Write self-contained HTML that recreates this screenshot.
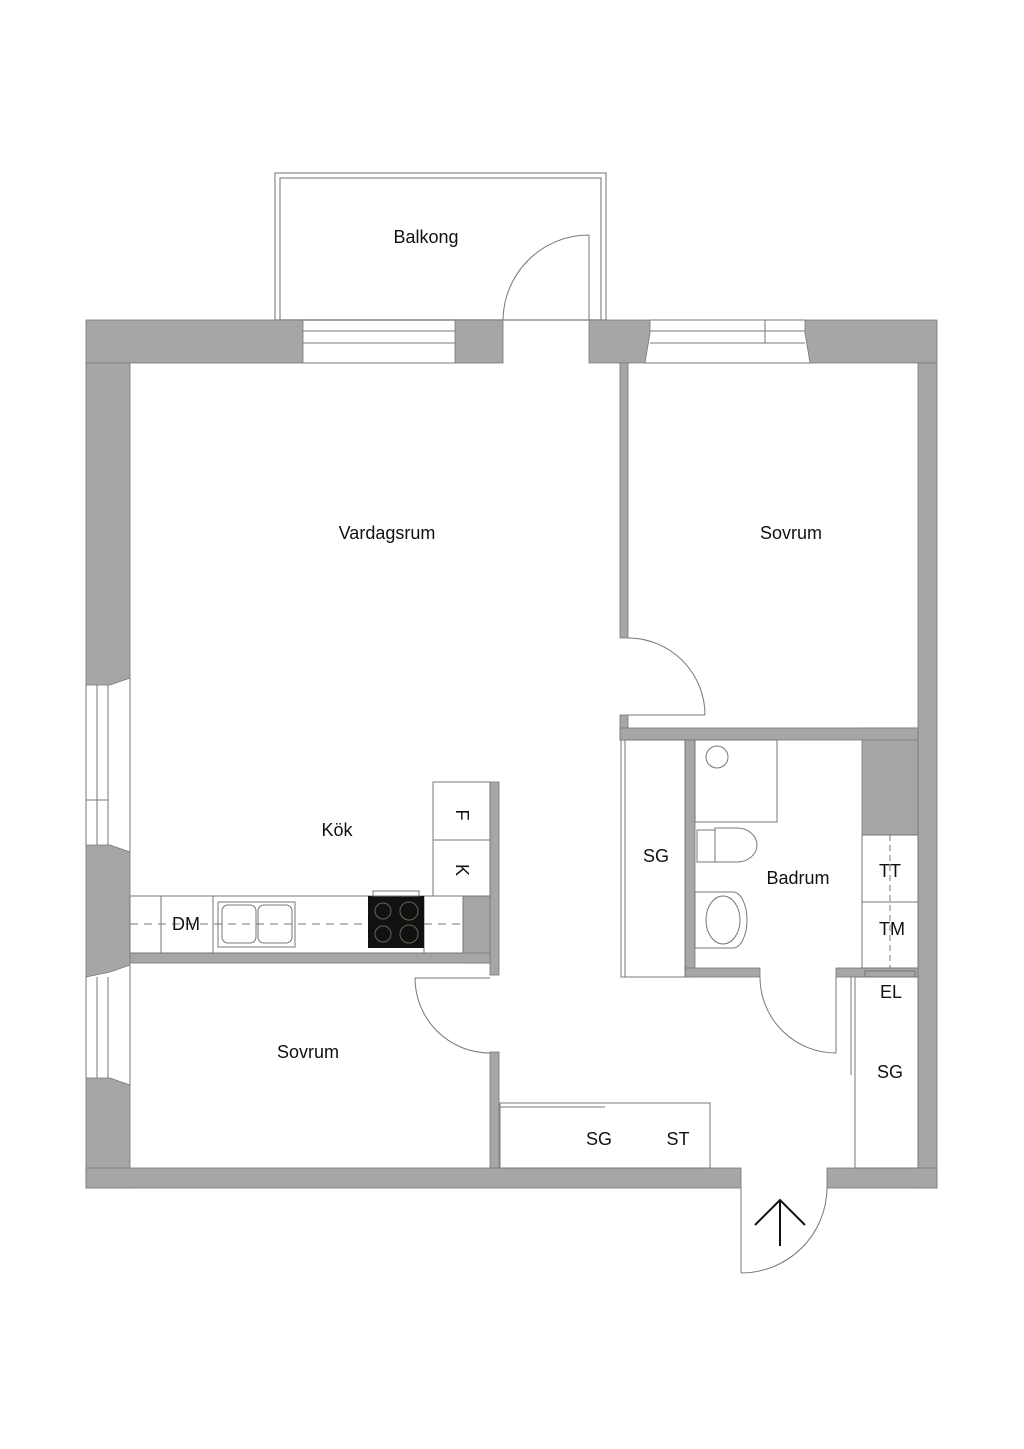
<!DOCTYPE html>
<html><head><meta charset="utf-8"><style>
html,body{margin:0;padding:0;background:#fff}
svg{display:block}
text{font-family:"Liberation Sans",sans-serif;font-size:18px;fill:#111}
</style></head><body>
<svg width="1024" height="1449" viewBox="0 0 1024 1449" xmlns="http://www.w3.org/2000/svg">
<rect width="1024" height="1449" fill="#fff"/>
<!-- balcony -->
<rect x="275" y="173" width="331" height="147" fill="none" stroke="#888" stroke-width="1.2"/>
<rect x="280" y="178" width="321" height="142" fill="none" stroke="#888" stroke-width="1.2"/>
<g fill="#a6a6a6" stroke="#777" stroke-width="0.8">
<!-- top wall -->
<rect x="86" y="320" width="217" height="43"/>
<rect x="455" y="320" width="48" height="43"/>
<polygon points="589,320 650,320 650,333 645,363 589,363"/>
<polygon points="805,320 937,320 937,363 810,363 805,333"/>
<!-- left wall -->
<polygon points="86,363 130,363 130,678 110,685 86,685"/>
<polygon points="86,845 110,845 130,852 130,965 110,972 86,977"/>
<polygon points="86,1078 110,1078 130,1085 130,1188 86,1188"/>
<!-- right wall -->
<rect x="918" y="363" width="19" height="825"/>
<rect x="862" y="728" width="56" height="107"/>
<!-- bottom wall -->
<rect x="86" y="1168" width="655" height="20"/>
<rect x="827" y="1168" width="110" height="20"/>
<!-- partition vardagsrum/sovrum -->
<rect x="620" y="363" width="8" height="275"/>
<rect x="620" y="715" width="8" height="25"/>
<rect x="620" y="728" width="298" height="12"/>
<!-- bathroom walls -->
<rect x="685" y="740" width="10" height="237"/>
<rect x="685" y="968" width="75" height="9"/>
<rect x="836" y="968" width="82" height="9"/>
<!-- kitchen walls -->
<rect x="490" y="782" width="9" height="193"/>
<rect x="463" y="896" width="27" height="67"/>
<rect x="130" y="953" width="360" height="10"/>
<rect x="490" y="1052" width="9" height="116"/>
</g>
<g fill="none" stroke="#777" stroke-width="1">
<!-- top windows -->
<line x1="303" y1="331" x2="455" y2="331"/><line x1="303" y1="343" x2="455" y2="343"/>
<line x1="303" y1="320" x2="455" y2="320"/><line x1="303" y1="363" x2="455" y2="363"/>
<line x1="650" y1="331" x2="805" y2="331"/><line x1="650" y1="343" x2="805" y2="343"/>
<line x1="650" y1="320" x2="805" y2="320"/><line x1="645" y1="363" x2="810" y2="363"/>
<line x1="765" y1="320" x2="765" y2="343"/>
<!-- left windows -->
<line x1="86" y1="685" x2="86" y2="845"/><line x1="97" y1="685" x2="97" y2="845"/><line x1="108" y1="685" x2="108" y2="845"/><line x1="130" y1="678" x2="130" y2="852"/>
<line x1="86" y1="800" x2="108" y2="800"/>
<line x1="86" y1="977" x2="86" y2="1078"/><line x1="97" y1="977" x2="97" y2="1078"/><line x1="108" y1="977" x2="108" y2="1078"/><line x1="130" y1="965" x2="130" y2="1085"/>
<!-- balcony door -->
<line x1="589" y1="235" x2="589" y2="320"/>
<path d="M503,320 A86,86 0 0 1 589,235"/>
<!-- sovrum door -->
<path d="M628,638 A77,77 0 0 1 705,715"/>
<line x1="628" y1="715" x2="705" y2="715"/>
<!-- bath door -->
<line x1="836" y1="977" x2="836" y2="1053"/>
<path d="M760,977 A76,76 0 0 0 836,1053"/>
<!-- south sovrum door -->
<path d="M415,978 A75,75 0 0 0 490,1053"/>
<line x1="415" y1="978" x2="490" y2="978"/>
<!-- entrance door -->
<line x1="741" y1="1188" x2="741" y2="1273"/>
<path d="M827,1188 A86,86 0 0 1 741,1273"/>
<!-- SG closet left -->
<rect x="621" y="740" width="64" height="237"/>
<line x1="625" y1="740" x2="625" y2="977"/>
<!-- shower -->
<rect x="695" y="740" width="82" height="82"/>
<circle cx="717" cy="757" r="11"/>
<!-- toilet -->
<path d="M697,830 h18 v32 h-18 z"/>
<path d="M715,828 h22 a20,17 0 0 1 0,34 h-22 z"/>
<!-- sink -->
<path d="M695,892 h38 a14,28 0 0 1 0,56 h-38 z"/>
<ellipse cx="723" cy="920" rx="17" ry="24"/>
<!-- TT TM EL -->
<rect x="862" y="835" width="56" height="133"/>
<line x1="862" y1="902" x2="918" y2="902"/>
<line x1="890" y1="835" x2="890" y2="968" stroke-dasharray="6,4"/>
<rect x="865" y="971" width="50" height="6"/>
<!-- SG right -->
<rect x="855" y="977" width="63" height="191"/>
<line x1="851" y1="977" x2="851" y2="1075"/>
<!-- SG ST -->
<rect x="500" y="1103" width="210" height="65"/>
<line x1="500" y1="1107" x2="605" y2="1107"/>
<!-- kitchen counter -->
<rect x="130" y="896" width="333" height="57"/>
<line x1="161" y1="896" x2="161" y2="953"/>
<line x1="213" y1="896" x2="213" y2="953"/>
<line x1="424" y1="896" x2="424" y2="953"/>
<line x1="130" y1="924" x2="463" y2="924" stroke-dasharray="8,6"/>
<rect x="218" y="902" width="77" height="45"/>
<rect x="222" y="905" width="34" height="38" rx="6"/>
<rect x="258" y="905" width="34" height="38" rx="6"/>
<rect x="433" y="782" width="57" height="114"/>
<line x1="433" y1="840" x2="490" y2="840"/>
</g>
<rect x="368" y="896" width="56" height="52" fill="#111"/>
<g fill="none" stroke="#665" stroke-width="1">
<circle cx="383" cy="911" r="8"/><circle cx="409" cy="911" r="9"/><circle cx="383" cy="934" r="8"/><circle cx="409" cy="934" r="9"/>
</g>
<rect x="373" y="891" width="46" height="5" fill="none" stroke="#777"/>
<!-- arrow -->
<g stroke="#111" stroke-width="2" fill="none">
<line x1="780" y1="1200" x2="780" y2="1246"/>
<polyline points="755,1225 780,1200 805,1225"/>
</g>
<text x="426" y="243" text-anchor="middle">Balkong</text>
<text x="387" y="539" text-anchor="middle">Vardagsrum</text>
<text x="791" y="539" text-anchor="middle">Sovrum</text>
<text x="337" y="836" text-anchor="middle">Kök</text>
<text x="186" y="930" text-anchor="middle">DM</text>
<text x="308" y="1058" text-anchor="middle">Sovrum</text>
<text x="656" y="862" text-anchor="middle">SG</text>
<text x="798" y="884" text-anchor="middle">Badrum</text>
<text x="890" y="877" text-anchor="middle">TT</text>
<text x="892" y="935" text-anchor="middle">TM</text>
<text x="891" y="998" text-anchor="middle">EL</text>
<text x="890" y="1078" text-anchor="middle">SG</text>
<text x="599" y="1145" text-anchor="middle">SG</text>
<text x="678" y="1145" text-anchor="middle">ST</text>
<text transform="translate(456,815) rotate(90)" text-anchor="middle">F</text>
<text transform="translate(456,870) rotate(90)" text-anchor="middle">K</text>
</svg>
</body></html>
